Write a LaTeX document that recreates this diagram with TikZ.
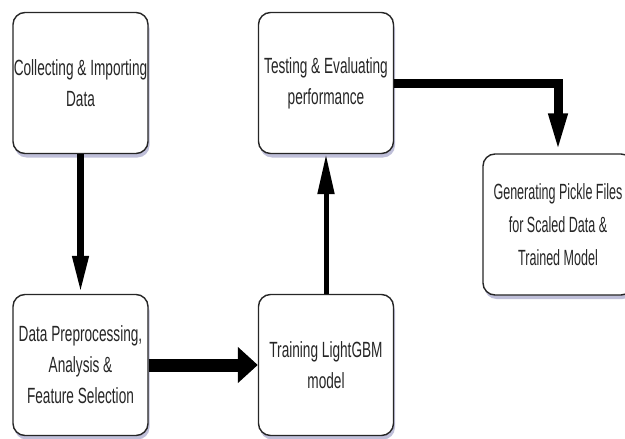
\documentclass[tikz,border=0pt]{standalone}
\usepackage{fontspec}
\setmainfont[FakeStretch=0.62]{Liberation Sans}
\newfontfamily\narrowerfont[FakeStretch=0.57]{Liberation Sans}
\usetikzlibrary{arrows.meta,shadows,positioning}
\begin{document}
\begin{tikzpicture}[x=1pt,y=-1pt,
  box/.style={draw=black!85, line width=1.4pt, rounded corners=12pt, fill=white,
    minimum width=135pt, minimum height=141pt, align=center,
    font=\fontsize{22}{31}\selectfont, text=black!85, inner sep=0pt,
    drop shadow={shadow xshift=1.5pt, shadow yshift=-4pt, opacity=0.25, fill=black!60!blue}},
  conn/.style={draw=black, line cap=butt}
]
\useasboundingbox (0,0) rectangle (625,439);
\clip (0,0) rectangle (625,439);
\node[box] (A) at (80.5,83) {Collecting \& Importing\\Data};
\node[box] (B) at (326,83) {Testing \& Evaluating\\performance};
\node[box] (C) at (80.5,365) {Data Preprocessing,\\Analysis \&\\Feature Selection};
\node[box] (D) at (326,365) {Training LightGBM\\model};
\node[box, minimum width=150pt, font=\narrowerfont\fontsize{22}{33}\selectfont] (E) at (558,224.5) {Generating Pickle Files\\for Scaled Data \&\\Trained Model};
\draw[conn, line width=7pt, -{Triangle[length=38pt,width=15pt]}] (A.south) -- (C.north);
\draw[conn, line width=13pt, -{Triangle[length=20pt,width=35pt]}] (C.east) -- (D.west);
\draw[conn, line width=5pt, -{Triangle[length=40pt,width=16pt]}] (D.north) -- (B.south);
\draw[conn, line width=9pt, -{Triangle[length=40pt,width=17pt]}] (B.east) -| (E.north);
\end{tikzpicture}
\end{document}
